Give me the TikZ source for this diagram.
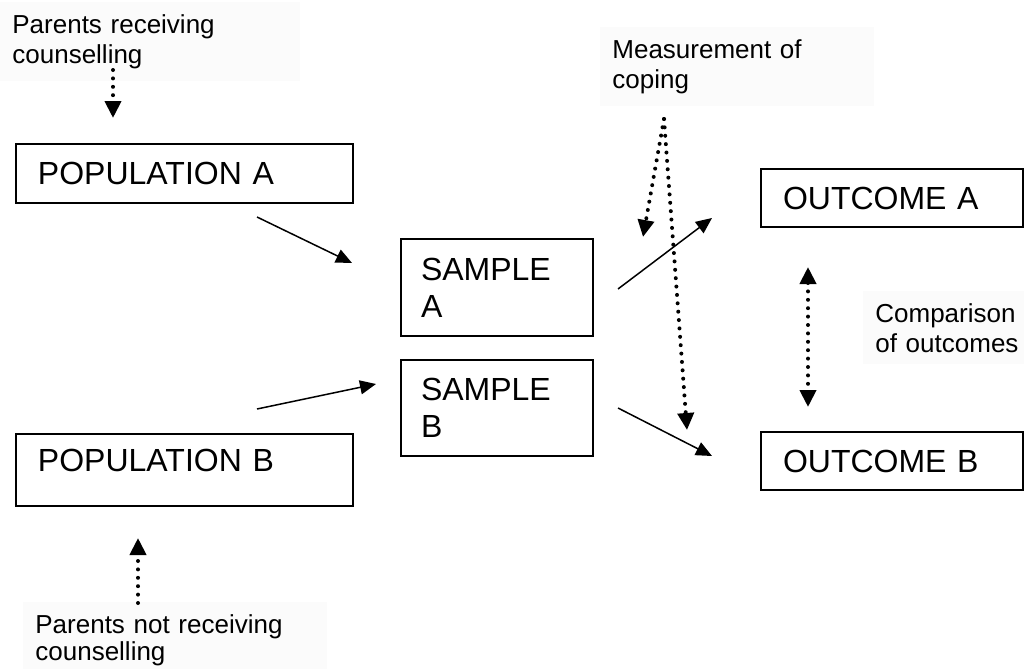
\documentclass[tikz,border=0pt]{standalone}
\usepackage{fontspec}
\setmainfont{Liberation Sans}
\usepackage{tikz}
\usetikzlibrary{positioning}
\usetikzlibrary{shapes,arrows,arrows.meta}
\tikzstyle{block} = [rectangle, draw, line width=1pt, anchor=north west, align=left,
                inner xsep=11pt, inner ysep=0pt, font=\fontsize{16}{18.5}\selectfont]
\tikzstyle{note} = [fill=black!1.5, anchor=north west, align=left, inner xsep=6pt,
                inner ysep=6pt, font=\fontsize{13}{15}\selectfont]
\tikzstyle{line} = [draw, line width=0.75pt, -{Triangle[length=8pt,width=7pt]}]
\tikzstyle{dotline} = [draw, line width=2pt, line cap=round, dash pattern=on 0pt off 4.2pt,
                -{Triangle[length=8.5pt,width=8pt]}]
\tikzstyle{dotboth} = [dotline, {Triangle[length=8.5pt,width=8pt]}-{Triangle[length=8.5pt,width=8pt]}]

\begin{document}
\begin{tikzpicture}[x=0.5pt,y=-0.5pt]
            \useasboundingbox (0,0) rectangle (1024,669);
            % side notes
            \node[note, text width=138pt](recv) at (0,2){Parents receiving\\counselling};
            \node[note, text width=125pt](measure) at (600,27){Measurement of\\coping};
            \node[note, text width=76pt](compare) at (863,291){Comparison\\of outcomes};
            \node[note, text width=140pt, font=\fontsize{13}{13.5}\selectfont](notrecv) at (23,602){Parents not receiving\\counselling};
            % boxes
            \node[block, text width=146.5pt, minimum height=29.5pt](popA) at (15,143){POPULATION A};
            \node[block, text width=146.5pt, minimum height=36pt, text depth=10pt, below=114.5pt of popA](popB){POPULATION B};
            \node[block, text width=76pt, inner xsep=10pt, minimum height=48.5pt](sampA) at (400,238){SAMPLE\\A};
            \node[block, text width=76pt, inner xsep=10pt, minimum height=48pt, below=11pt of sampA](sampB){SAMPLE\\B};
            \node[block, text width=109pt, minimum height=29pt](outA) at (760,168){OUTCOME A};
            \node[block, text width=109pt, minimum height=29pt, below=101.5pt of outA](outB){OUTCOME B};
            % arrow ends
            \coordinate (pa1) at ([xshift=-48.5pt,yshift=-6.5pt]popA.south east);
            \coordinate (sa1) at ([xshift=-24pt,yshift=-12.5pt]sampA.north west);
            \coordinate (pb1) at ([xshift=-48.5pt,yshift=12pt]popB.north east);
            \coordinate (sb1) at ([xshift=-12pt,yshift=-12.5pt]sampB.north west);
            \coordinate (sa2) at ([xshift=12pt,yshift=-0.75pt]sampA.east);
            \coordinate (oa1) at ([xshift=-24pt,yshift=5pt]outA.south west);
            \coordinate (sb2) at ([xshift=12pt]sampB.east);
            \coordinate (ob1) at ([xshift=-24pt,yshift=2.5pt]outB.west);
            \coordinate (rc1) at ([xshift=49pt,yshift=36.5pt]popA.north west);
            \coordinate (pa0) at ([xshift=49pt,yshift=12.5pt]popA.north west);
            \coordinate (nr1) at ([xshift=61.5pt,yshift=-48pt]popB.south west);
            \coordinate (pb0) at ([xshift=61.5pt,yshift=-15.5pt]popB.south west);
            \coordinate (cope) at (664,119);
            \coordinate (sa0) at ([xshift=121.5pt,yshift=0.5pt]sampA.north west);
            \coordinate (ob0) at ([xshift=-36.5pt,yshift=0.5pt]outB.north west);
            \coordinate (oa2) at ([xshift=24pt,yshift=-19.5pt]outA.south west);
            \coordinate (ob2) at ([xshift=24pt,yshift=12pt]outB.north west);
            % connectors
            \path[line] (pa1) -- (sa1);
            \path[line] (pb1) -- (sb1);
            \path[line] (sa2) -- (oa1);
            \path[line] (sb2) -- (ob1);
            \path[dotline] (rc1) -- (pa0);
            \path[dotline] (nr1) -- (pb0);
            \path[dotline] (cope) -- (sa0);
            \path[dotline] (cope) -- (ob0);
            \path[dotboth] (oa2) -- (ob2);
        \end{tikzpicture}
\end{document}
